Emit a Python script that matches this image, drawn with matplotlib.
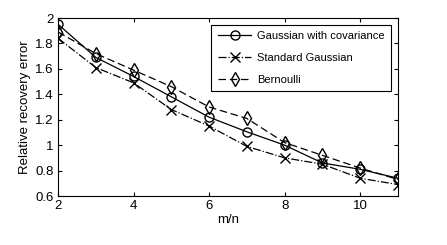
import matplotlib

matplotlib.use("Agg")
import matplotlib.pyplot as plt

plt.rcParams["font.family"] = ["Liberation Sans", "DejaVu Sans"]

ratio = [2, 3, 4, 5, 6, 7, 8, 9, 10, 11]
gauss_cov = [1.95, 1.69, 1.54, 1.38, 1.22, 1.105, 1.00, 0.86, 0.81, 0.74]
std_gauss = [1.84, 1.61, 1.49, 1.28, 1.15, 0.99, 0.90, 0.85, 0.74, 0.69]
bernoulli = [1.89, 1.72, 1.59, 1.46, 1.30, 1.21, 1.02, 0.92, 0.82, 0.73]

fig = plt.figure(figsize=(4.47, 2.45), dpi=100)
ax = fig.add_axes([0.130, 0.200, 0.760, 0.7265])

ax.plot(ratio, gauss_cov, "k-", marker="o", mfc="none", ms=6.5, lw=0.9,
        label="Gaussian with covariance")
ax.plot(ratio, std_gauss, "k-.", marker="x", ms=6.5, lw=0.9,
        label="Standard Gaussian")
ax.plot(ratio, bernoulli, "k--", marker="d", mfc="none", ms=7, lw=0.9,
        dashes=(6, 3), label="Bernoulli")

ax.set_xlim(2, 11)
ax.set_ylim(0.6, 2)
ax.set_xticks([2, 4, 6, 8, 10])
ax.set_yticks([0.6, 0.8, 1, 1.2, 1.4, 1.6, 1.8, 2])
ax.set_yticklabels(["0.6", "0.8", "1", "1.2", "1.4", "1.6", "1.8", "2"])
ax.tick_params(direction="in", top=True, right=True, labelsize=9.5, length=3, pad=3)
ax.set_xlabel("m/n", fontsize=9.5, labelpad=1)
ax.set_ylabel("Relative recovery error", fontsize=9.5, labelpad=3)
for s in ax.spines.values():
    s.set_linewidth(0.8)

leg = ax.legend(loc="upper right", fontsize=8, fancybox=False, edgecolor="k",
                framealpha=1, handlelength=3.0, borderaxespad=0.6,
                labelspacing=1.05, borderpad=0.6, handletextpad=0.5)
leg.get_frame().set_linewidth(0.8)

fig.savefig("out.png", dpi=100)
